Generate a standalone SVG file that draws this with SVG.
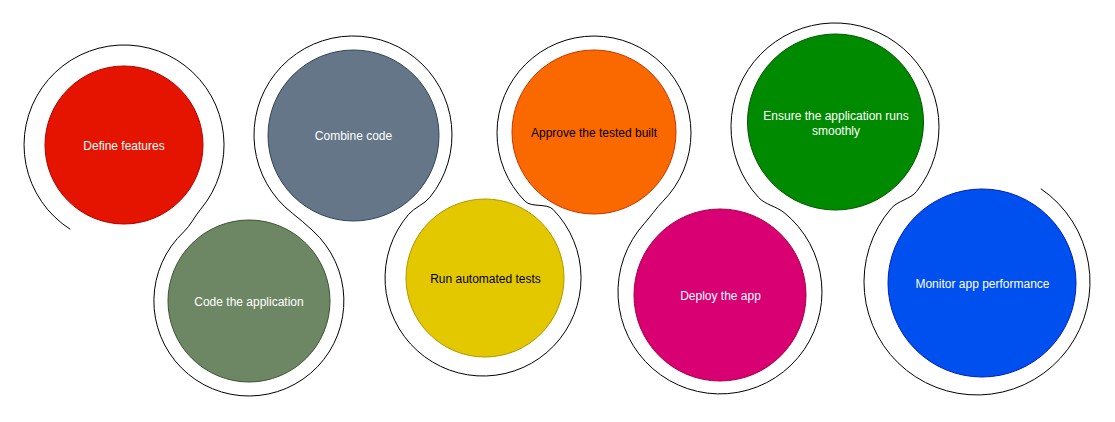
<svg xmlns="http://www.w3.org/2000/svg" width="1115" height="422" viewBox="0 0 1115 422">
<style>
.lbl{font-family:"Liberation Sans",Arial,sans-serif;font-size:12px;text-anchor:middle}
.w{fill:#ffffff}
.k{fill:#000000}
.ring{fill:none;stroke:#000000;stroke-width:1}
</style>
<rect width="1115" height="422" fill="#ffffff"/>
<g id="connectors">
<path class="ring" d="M 70.3 229.3 A 100 100 0 1 1 200.6 209.3 C 194.8 216.2 190.4 225.6 183.8 231.8 A 95 95 0 1 0 313.0 230.9 C 306.4 224.8 299.3 218.6 292.2 213.1 A 99 99 0 1 1 429.9 197.3 C 424.2 204.3 414.3 207.6 408.5 214.4 A 98 98 0 1 0 553.0 209.4 C 546.7 203.0 531.4 207.7 525.1 201.3 A 97 97 0 1 1 662.7 201.5 C 656.3 207.9 650.7 216.5 644.6 223.2 A 102 102 0 1 0 784.1 212.6 C 776.3 206.3 765.3 204.8 758.5 197.4 A 104 104 0 1 1 916.7 191.3 C 910.5 199.2 897.8 200.7 891.3 208.3 A 113 113 0 1 0 1040.8 188.7"/>
</g>
<g id="node1">
<circle cx="124" cy="145" r="79" fill="#e51400" stroke="#b20000"/>
<text class="lbl w" x="124" y="150">Define features</text>
</g>
<g id="node2">
<circle cx="249" cy="301" r="81" fill="#6d8764" stroke="#3a5431"/>
<text class="lbl w" x="249" y="306">Code the application</text>
</g>
<g id="node3">
<circle cx="353.5" cy="135.5" r="85.5" fill="#647687" stroke="#314354"/>
<text class="lbl w" x="353.5" y="140">Combine code</text>
</g>
<g id="node4">
<circle cx="485" cy="278" r="79" fill="#e3c800" stroke="#b09500"/>
<text class="lbl k" x="485.5" y="283">Run automated tests</text>
</g>
<g id="node5">
<circle cx="594" cy="132" r="82" fill="#fa6800" stroke="#c73500"/>
<text class="lbl k" x="594" y="137">Approve the tested built</text>
</g>
<g id="node6">
<circle cx="720" cy="295" r="86" fill="#d80073" stroke="#a50040"/>
<text class="lbl w" x="720.5" y="300">Deploy the app</text>
</g>
<g id="node7">
<circle cx="835.5" cy="122" r="88" fill="#008a00" stroke="#005700"/>
<text class="lbl w" x="836" y="120">Ensure the application runs</text>
<text class="lbl w" x="836" y="135">smoothly</text>
</g>
<g id="node8">
<circle cx="982" cy="283" r="94" fill="#0050ef" stroke="#001dbc"/>
<text class="lbl w" x="982.5" y="288">Monitor app performance</text>
</g>
</svg>
